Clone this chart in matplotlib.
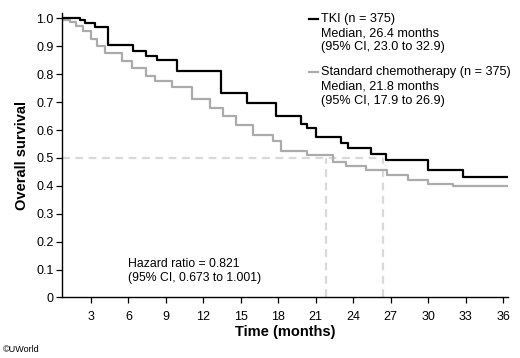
import numpy as np
import matplotlib
matplotlib.use("Agg")
import matplotlib.pyplot as plt
from matplotlib.lines import Line2D

plt.rcParams['font.family'] = ['Liberation Sans', 'DejaVu Sans']

# Kaplan-Meier steps (time in months, survival fraction)
tki_t = [0, 2.1, 2.5, 3.3, 4.4, 6.4, 7.4, 8.3, 9.9, 13.4, 15.5, 17.8, 19.8, 20.3,
         21.0, 23.0, 23.6, 25.4, 26.6, 30.0, 32.8, 36.4]
tki_s = [1.0, 0.995, 0.985, 0.968, 0.906, 0.885, 0.866, 0.852, 0.813, 0.734, 0.698,
         0.652, 0.622, 0.606, 0.576, 0.554, 0.537, 0.513, 0.493, 0.457, 0.432, 0.432]
chemo_t = [0, 1.3, 1.8, 2.4, 3.0, 3.5, 4.1, 5.5, 6.3, 7.4, 8.1, 9.5, 11.1, 12.5, 13.6,
           14.6, 16.0, 17.6, 18.2, 20.3, 22.4, 23.4, 25.0, 26.7, 28.4, 30.0, 32.0, 36.4]
chemo_s = [0.995, 0.986, 0.974, 0.956, 0.928, 0.903, 0.875, 0.848, 0.822, 0.795, 0.777,
           0.753, 0.711, 0.680, 0.652, 0.619, 0.583, 0.562, 0.526, 0.509, 0.487, 0.473,
           0.457, 0.440, 0.421, 0.408, 0.400, 0.400]
medians = [26.4, 21.8]   # TKI, chemo
x_ticks = list(range(3, 37, 3))
y_ticks = [0, 0.1, 0.2, 0.3, 0.4, 0.5, 0.6, 0.7, 0.8, 0.9, 1.0]
y_labels = ['0', '0.1', '0.2', '0.3', '0.4', '0.5', '0.6', '0.7', '0.8', '0.9', '1.0']
legend_tki = ['TKI (n = 375)', 'Median, 26.4 months', '(95% CI, 23.0 to 32.9)']
legend_chemo = ['Standard chemotherapy (n = 375)', 'Median, 21.8 months', '(95% CI, 17.9 to 26.9)']
hr_text = 'Hazard ratio = 0.821\n(95% CI, 0.673 to 1.001)'

BLACK = '#000000'
GRAY = '#ababab'
DASH = '#d9d9d9'

fig = plt.figure(figsize=(5.2, 3.58), dpi=100)
ax = fig.add_axes([0.119, 0.169, 0.858, 0.795])
ax.set_xlim(0.67, 36.4)
ax.set_ylim(0, 1.02)

# median reference lines
ax.plot([0.67, max(medians)], [0.5, 0.5], color=DASH, lw=1.6, ls=(0, (3.5, 2.5)), zorder=1)
for m in medians:
    ax.plot([m, m], [0, 0.5], color=DASH, lw=1.6, ls=(0, (3.5, 2.5)), zorder=1)

ax.step(chemo_t, chemo_s, where='post', color=GRAY, lw=1.6, zorder=2)
ax.step(tki_t, tki_s, where='post', color=BLACK, lw=1.6, zorder=3)

for s in ['top', 'right']:
    ax.spines[s].set_visible(False)
for s in ['left', 'bottom']:
    ax.spines[s].set_linewidth(1.0)
ax.set_xticks(x_ticks)
ax.set_yticks(y_ticks)
ax.set_yticklabels(y_labels)
ax.tick_params(labelsize=9, length=4, width=0.9, pad=2)
ax.tick_params(axis='x', pad=5.5)
ax.set_xlabel('Time (months)', fontsize=10.5, fontweight='bold', labelpad=2)
ax.set_ylabel('Overall survival', fontsize=10.5, fontweight='bold', labelpad=5)

# legend drawn as key lines + text
def fx(px): return px / 520
def fy(py): return 1 - py / 358
fig.add_artist(Line2D([fx(309), fx(318)], [fy(19), fy(19)], color=BLACK, lw=1.6))
fig.add_artist(Line2D([fx(309), fx(318)], [fy(72), fy(72)], color=GRAY, lw=1.6))
for i, line in enumerate(legend_tki):
    fig.text(fx(321), fy(19 + 14 * i), line, fontsize=9.1, va='center', ha='left')
for i, line in enumerate(legend_chemo):
    fig.text(fx(321), fy(72 + 14.5 * i), line, fontsize=9.1, va='center', ha='left')

fig.text(fx(128), fy(271), hr_text, fontsize=8.8, va='center', ha='left', linespacing=1.3)
fig.text(fx(3), fy(350), '\u00a9UWorld', fontsize=6.5, va='center', ha='left')

fig.savefig('out.png', dpi=100)
